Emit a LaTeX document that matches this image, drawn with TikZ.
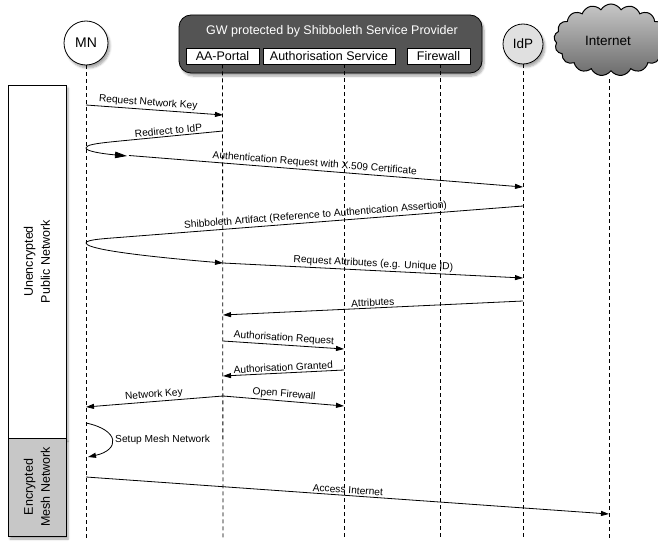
\documentclass[tikz,border=0pt]{standalone}
\usepackage{fontspec}
\setmainfont{Liberation Sans}
\usetikzlibrary{arrows.meta,shapes.symbols,shadows.blur}
\begin{document}
\begin{tikzpicture}[x=1pt,y=-1pt,
  msg/.style={line width=0.8pt,-{Triangle[length=8pt,width=5pt]}},
  bigmsg/.style={line width=0.8pt,-{Triangle[length=12pt,width=6.5pt]}},
  plain/.style={line width=0.8pt},
  lbl/.style={font=\fontsize{10.2}{12}\selectfont,sloped,above,inner sep=1.5pt},
  life/.style={line width=0.8pt,dash pattern=on 4pt off 3pt},
  sub/.style={draw,fill=white,line width=0.6pt,font=\fontsize{12.5}{14}\selectfont,inner sep=0pt,minimum height=16pt},
  shad/.style={blur shadow={shadow blur steps=6,shadow xshift=2pt,shadow yshift=-3pt,shadow opacity=35}},
  actor/.style={circle,draw,line width=0.8pt,inner sep=0pt,shad},
  zone/.style={draw,line width=0.8pt,inner sep=0pt,shad},
  zonelbl/.style={rotate=90,align=center,font=\fontsize{12.5}{17}\selectfont},
]
\useasboundingbox (0,0) rectangle (658,543);

% zones
\node[zone,fill=white,minimum width=58pt,minimum height=353pt] (UPN) at (37,261.5) {};
\node[zonelbl] (UPNt) at (UPN.center) {Unencrypted\\Public Network};
\node[zone,fill=black!22,minimum width=58pt,minimum height=98pt] (EMN) at (37,487) {};
\node[zonelbl] (EMNt) at (EMN.center) {Encrypted\\Mesh Network};

% header
\node[actor,fill=white,minimum size=44pt,font=\fontsize{14}{16}\selectfont] (MN) at (86,43) {MN};
\node[draw,line width=0.8pt,fill=black!67,rounded corners=12pt,minimum width=303pt,minimum height=58pt,shad] (GW) at (330.5,44) {};
\node[text=white,font=\fontsize{12.5}{14}\selectfont] (GWt) at (332,31) {GW protected by Shibboleth Service Provider};
\node[sub,minimum width=73pt] (AA) at (222.5,56) {AA-Portal};
\node[sub,minimum width=132pt] (AS) at (329,56) {Authorisation Service};
\node[sub,minimum width=63pt] (FW) at (438.5,56) {Firewall};
\node[actor,fill=black!12,minimum size=40pt,font=\fontsize{13.5}{16}\selectfont] (IdP) at (523,44) {IdP};
\node[cloud,draw,line width=1pt,cloud puffs=17,cloud puff arc=120,aspect=1.6,minimum width=114pt,minimum height=72pt,top color=black!22,bottom color=black!58,font=\fontsize{13.5}{16}\selectfont,inner sep=0pt] (Int) at (611,40) {};
\node[font=\fontsize{13.5}{16}\selectfont] (Intt) at (608,41) {Internet};

% lifelines
\coordinate (ASt) at (344,64);
\coordinate (FWt) at (440,64);
\coordinate (Intb) at (609,79);
\coordinate (MNe) at (86,538);
\coordinate (AAe) at (223,538);
\coordinate (ASe) at (344,538);
\coordinate (FWe) at (440,538);
\coordinate (IdPe) at (523,538);
\coordinate (Inte) at (609,538);
\draw[life] (MN.south) -- (MNe);
\draw[life] (AA.south) -- (AAe);
\draw[life] (ASt) -- (ASe);
\draw[life] (FWt) -- (FWe);
\draw[life] (IdP.south) -- (IdPe);
\draw[life] (Intb) -- (Inte);

% message points
\coordinate (m1a) at (86,105);   \coordinate (m1b) at (223,115);
\coordinate (m2a) at (223,131);  \coordinate (m2b) at (115,141.5);
\coordinate (m2c) at (86,148);   \coordinate (m2d) at (127,156);
\coordinate (m3a) at (129,155.5);\coordinate (m3b) at (523,187);
\coordinate (m4a) at (523,206);  \coordinate (m4b) at (125,237);
\coordinate (m4c) at (86,243);   \coordinate (m4d) at (223,263);
\coordinate (m5b) at (523,278);
\coordinate (m6a) at (523,301);  \coordinate (m6b) at (223,315);
\coordinate (m7a) at (223,341);  \coordinate (m7b) at (344,349);
\coordinate (m8a) at (344,370);  \coordinate (m8b) at (223,376);
\coordinate (m9a) at (223,396);  \coordinate (m9b) at (344,406);
\coordinate (m10b) at (86,407);
\coordinate (m11a) at (86,423);  \coordinate (m11b) at (88,457);
\coordinate (m12a) at (86,477);  \coordinate (m12b) at (609,514);

% messages
\draw[msg] (m1a) -- node[lbl,pos=0.45] (t1) {Request Network Key} (m1b);
\draw[bigmsg] (m2a) -- node[lbl] (t2) {Redirect to IdP} (m2b)
  .. controls (95,143.5) and (86,145) .. (m2c)
  .. controls (86,151) and (100,153.5) .. (m2d);
\draw[msg] (m3a) -- node[lbl,pos=0.47] (t3) {Authentication Request with X.509 Certificate} (m3b);
\draw[msg] (m4a) -- node[lbl,pos=0.52] (t4) {Shibboleth Artifact (Reference to Authentication Assertion)} (m4b)
  .. controls (105,238.6) and (86,239.5) .. (m4c)
  .. controls (86,247) and (110,253.5) .. (m4d);
\draw[msg] (m4d) -- node[lbl,pos=0.5] (t5) {Request Attributes (e.g. Unique ID)} (m5b);
\draw[msg] (m6a) -- node[lbl,pos=0.5] (t6) {Attributes} (m6b);
\draw[msg] (m7a) -- node[lbl] (t7) {Authorisation Request} (m7b);
\draw[msg] (m8a) -- node[lbl] (t8) {Authorisation Granted} (m8b);
\draw[msg] (m9a) -- node[lbl] (t9) {Open Firewall} (m9b);
\draw[msg] (m9a) -- node[lbl,pos=0.5] (t10) {Network Key} (m10b);
\draw[msg] (m11a) .. controls (120,430) and (120,450) .. (m11b);
\node[anchor=west,font=\fontsize{10.2}{12}\selectfont,inner sep=0pt] (t11) at (115,440) {Setup Mesh Network};
\draw[msg] (m12a) -- node[lbl,pos=0.5] (t12) {Access Internet} (m12b);
\end{tikzpicture}
\end{document}
